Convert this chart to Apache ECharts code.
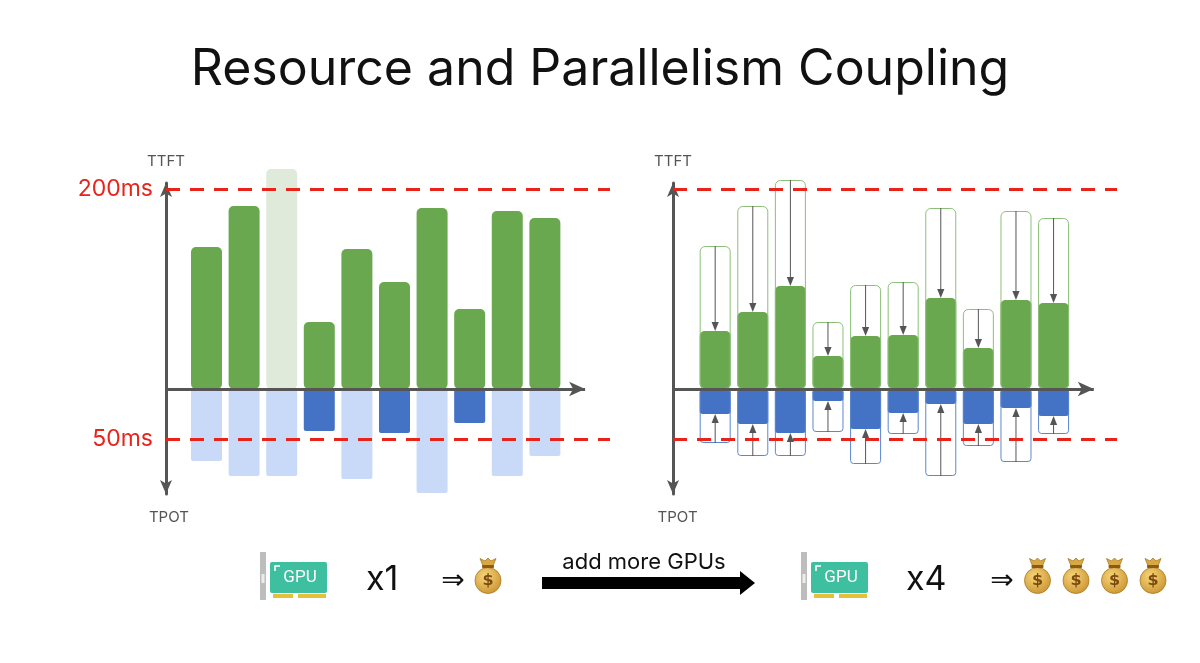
<!DOCTYPE html>
<html>
<head>
<meta charset="utf-8">
<script src="https://cdn.jsdelivr.net/npm/echarts@6/dist/echarts.min.js"></script>
<style>html,body{margin:0;padding:0;background:#fff}#chart{width:1200px;height:663px}</style>
</head>
<body>
<div id="chart"></div>
<script>
// ---------------- data ----------------
const requestIds = [1, 2, 3, 4, 5, 6, 7, 8, 9, 10];
const ttftSLO = 200;   // ms
const tpotSLO = 50;    // ms
// left panel: single GPU
const leftTTFT = [142, 183, 220, 67, 140, 107, 181, 80, 178, 171];
const leftTPOT = [72, 87, 87, 42, 90, 44, 104, 34, 87, 67];
// right panel: more GPUs (before -> after)
const rightTTFTBefore = [143, 183, 209, 67, 104, 107, 181, 80, 178, 171];
const rightTTFTAfter  = [58, 77, 103, 33, 53, 54, 91, 41, 89, 86];
const rightTPOTBefore = [54, 67, 67, 43, 75, 45, 87, 57, 73, 45];
const rightTPOTAfter  = [25, 35, 44, 12, 40, 24, 15, 35, 19, 27];
const gpuLabels = ['x1', 'x4'];
const costBags = [1, 4];

// ---------------- style / layout ----------------
const FONT = 'Inter';
const AXIS_C = '#555555';
const GREEN = '#6aa84f', GREEN_FADED = '#dfeada';
const BLUE = '#4472c4', BLUE_LIGHT = '#c9daf8';
const RED = '#e8231a';
const OUT_GREEN = '#8cbf78', OUT_BLUE = '#5b86d0';
const Y_MIN = -105, Y_MAX = 206;
const GRID_TOP = 183, GRID_H = 311, GRID_W = 444;
const panels = [
  { left: 166, xMin: -0.077, xMax: 11.732 },
  { left: 673, xMin: -0.122, xMax: 11.687 }
];
const X_ARROW_END = 11.07;
const BAR_W = 31;

const grids = panels.map(p => ({ left: p.left, top: GRID_TOP, width: GRID_W, height: GRID_H }));
const xAxes = panels.map((p, i) => ({
  type: 'value', gridIndex: i, min: p.xMin, max: p.xMax,
  axisLine: { show: false }, axisTick: { show: false }, axisLabel: { show: false }, splitLine: { show: false }
}));
const yAxes = [];
panels.forEach((p, i) => {
  yAxes.push({
    type: 'value', gridIndex: i, min: Y_MIN, max: Y_MAX, position: 'left',
    name: 'TTFT', nameLocation: 'end', nameGap: 14,
    nameTextStyle: { color: AXIS_C, fontSize: 15, fontFamily: FONT },
    axisLine: { show: true, onZero: false, symbol: ['arrow', 'arrow'], symbolSize: [9, 14],
      lineStyle: { color: AXIS_C, width: 3 } },
    axisTick: { show: false }, axisLabel: { show: false }, splitLine: { show: false }
  });
  yAxes.push({
    type: 'value', gridIndex: i, min: Y_MIN, max: Y_MAX, position: 'left', offset: 0,
    name: 'TPOT', nameLocation: 'start', nameGap: 16,
    nameTextStyle: { color: AXIS_C, fontSize: 15, fontFamily: FONT },
    axisLine: { show: false }, axisTick: { show: false }, axisLabel: { show: false }, splitLine: { show: false }
  });
});

function sloLines(withLabels, xMin) {
  return {
    silent: true, symbol: 'none', animation: false,
    lineStyle: { color: RED, width: 3, type: [14, 10] },
    label: { show: withLabels, position: 'start', distance: 13, color: RED, fontSize: 23, fontFamily: FONT },
    data: [
      { yAxis: ttftSLO, label: { formatter: ttftSLO + 'ms' } },
      { yAxis: -tpotSLO, label: { formatter: tpotSLO + 'ms', padding: [0, 0, 12, 0] } },
      [
        { coord: [xMin, 0], symbol: 'none', lineStyle: { color: AXIS_C, width: 3, type: 'solid' }, label: { show: false } },
        { coord: [X_ARROW_END, 0], symbol: 'arrow', symbolSize: [11, 16] }
      ]
    ]
  };
}

function arrowRender(sign) {
  return function (params, api) {
    const x = api.value(0);
    const p0 = api.coord([x, sign * api.value(1)]);
    const p1 = api.coord([x, sign * api.value(2)]);
    const dir = p1[1] > p0[1] ? 1 : -1;
    const head = 9, hw = 3.6;
    return {
      type: 'group', children: [
        { type: 'line', shape: { x1: p0[0], y1: p0[1], x2: p1[0], y2: p1[1] - dir * head },
          style: { stroke: AXIS_C, lineWidth: 1 } },
        { type: 'polygon', shape: { points: [[p1[0], p1[1]], [p1[0] - hw, p1[1] - dir * head], [p1[0] + hw, p1[1] - dir * head]] },
          style: { fill: AXIS_C } }
      ]
    };
  };
}

const series = [
  // ---- left panel ----
  {
    type: 'bar', name: 'TTFT', xAxisIndex: 0, yAxisIndex: 0, barWidth: BAR_W, barGap: '-100%', clip: false,
    itemStyle: { borderRadius: 5 },
    data: leftTTFT.map((v, i) => ({ value: [requestIds[i], v], itemStyle: { color: v > ttftSLO ? GREEN_FADED : GREEN } })),
    markLine: sloLines(true, panels[0].xMin)
  },
  {
    type: 'bar', name: 'TPOT', xAxisIndex: 0, yAxisIndex: 0, barWidth: BAR_W, barGap: '-100%', clip: false,
    itemStyle: { borderRadius: 2 },
    data: leftTPOT.map((v, i) => ({ value: [requestIds[i], -v], itemStyle: { color: v > tpotSLO ? BLUE_LIGHT : BLUE } }))
  },
  // ---- right panel ----
  {
    type: 'bar', name: 'TTFT after', xAxisIndex: 1, yAxisIndex: 2, barWidth: BAR_W, barGap: '-100%', clip: false, z: 2,
    itemStyle: { color: GREEN, borderRadius: 5 },
    data: rightTTFTAfter.map((v, i) => [requestIds[i], v]),
    markLine: sloLines(false, panels[1].xMin)
  },
  {
    type: 'bar', name: 'TPOT after', xAxisIndex: 1, yAxisIndex: 2, barWidth: BAR_W, barGap: '-100%', clip: false, z: 2,
    itemStyle: { color: BLUE, borderRadius: 3 },
    data: rightTPOTAfter.map((v, i) => [requestIds[i], -v])
  },
  {
    type: 'bar', name: 'TTFT before', xAxisIndex: 1, yAxisIndex: 2, barWidth: BAR_W, barGap: '-100%', clip: false, z: 3,
    itemStyle: { color: 'rgba(0,0,0,0)', borderColor: OUT_GREEN, borderWidth: 1, borderRadius: 5 },
    data: rightTTFTBefore.map((v, i) => [requestIds[i], v])
  },
  {
    type: 'bar', name: 'TPOT before', xAxisIndex: 1, yAxisIndex: 2, barWidth: BAR_W, barGap: '-100%', clip: false, z: 3,
    itemStyle: { color: 'rgba(0,0,0,0)', borderColor: OUT_BLUE, borderWidth: 1, borderRadius: 3 },
    data: rightTPOTBefore.map((v, i) => [requestIds[i], -v])
  },
  {
    type: 'custom', name: 'TTFT reduction', xAxisIndex: 1, yAxisIndex: 2, z: 4, clip: false,
    renderItem: arrowRender(1), encode: { x: 0, y: [1, 2] },
    data: rightTTFTBefore.map((v, i) => [requestIds[i], v, rightTTFTAfter[i]])
  },
  {
    type: 'custom', name: 'TPOT reduction', xAxisIndex: 1, yAxisIndex: 2, z: 4, clip: false,
    renderItem: arrowRender(-1), encode: { x: 0, y: [1, 2] },
    data: rightTPOTBefore.map((v, i) => [requestIds[i], v, rightTPOTAfter[i]])
  }
];

// ---------------- bottom decorations ----------------
function txt(x, y, text, font, color, align) {
  return { type: 'text', x: x, y: y,
    style: { text: text, font: font, fill: color || '#000', align: align || 'left', textAlign: align || 'left',
      verticalAlign: 'middle', textVerticalAlign: 'middle' } };
}
function gpuIcon(x0) {
  return { type: 'group', children: [
    { type: 'rect', shape: { x: x0, y: 552, width: 6, height: 48 }, style: { fill: '#bdbdbd' } },
    { type: 'rect', shape: { x: x0 + 1.5, y: 574, width: 3, height: 9 }, style: { fill: '#ececec' } },
    { type: 'rect', shape: { x: x0 + 10, y: 562, width: 57, height: 31, r: 2 }, style: { fill: '#3ebf9f' } },
    { type: 'polyline', shape: { points: [[x0 + 15, 571], [x0 + 15, 566], [x0 + 20, 566]] }, style: { stroke: '#fff', lineWidth: 1.6, fill: null } },
    txt(x0 + 40, 578, 'GPU', '17px Roboto', '#ffffff', 'center'),
    { type: 'rect', shape: { x: x0 + 13, y: 594, width: 20, height: 4 }, style: { fill: '#e5c13b' } },
    { type: 'rect', shape: { x: x0 + 38, y: 594, width: 28, height: 4 }, style: { fill: '#e5c13b' } }
  ] };
}
function moneyBag(cx) {
  return { type: 'group', children: [
    { type: 'polygon', shape: { points: [[cx - 8, 558.5], [cx - 3, 561], [cx, 558], [cx + 3, 561], [cx + 8, 558.5], [cx + 4.5, 567], [cx - 4.5, 567]] },
      style: { fill: '#d9a843', stroke: '#a77a22', lineWidth: 0.8 } },
    { type: 'circle', shape: { cx: cx, cy: 580.5, r: 13 },
      style: { fill: { type: 'radial', x: 0.4, y: 0.35, r: 0.75, colorStops: [{ offset: 0, color: '#f6d67a' }, { offset: 1, color: '#c98f2c' }] },
        stroke: '#a77a22', lineWidth: 0.8 } },
    { type: 'rect', shape: { x: cx - 6, y: 565, width: 12, height: 3, r: 1 }, style: { fill: '#8a5b17' } },
    txt(cx, 581, '$', 'bold 16px "DejaVu Sans"', '#7a4a0e', 'center')
  ] };
}
const bagStarts = [488, 1037.5];
const gpuX = [260, 801];
const multX = [366, 906];
const impliesX = [453, 1002];
const decorations = [];
[0, 1].forEach(k => {
  decorations.push(gpuIcon(gpuX[k]));
  decorations.push(txt(multX[k], 580, gpuLabels[k], '34px ' + FONT, '#111'));
  decorations.push(txt(impliesX[k], 582, '⇒', '28px "DejaVu Sans"', '#111', 'center'));
  for (let b = 0; b < costBags[k]; b++) decorations.push(moneyBag(bagStarts[k] + b * 38.5));
});
decorations.push({ type: 'rect', shape: { x: 542, y: 577, width: 202, height: 12 }, style: { fill: '#000' } });
decorations.push({ type: 'polygon', shape: { points: [[740, 571], [755, 583], [740, 595]] }, style: { fill: '#000' } });
decorations.push(txt(644, 562, 'add more GPUs', '22px ' + FONT, '#111', 'center'));

const chart = echarts.init(document.getElementById('chart'));
chart.setOption({
  animation: false,
  backgroundColor: '#ffffff',
  title: {
    text: 'Resource and Parallelism Coupling', left: 'center', top: 40,
    textStyle: { fontSize: 50, fontWeight: 'normal', color: '#111', fontFamily: FONT }
  },
  grid: grids,
  xAxis: xAxes,
  yAxis: yAxes,
  series: series,
  graphic: { elements: decorations }
});
</script>
</body>
</html>
